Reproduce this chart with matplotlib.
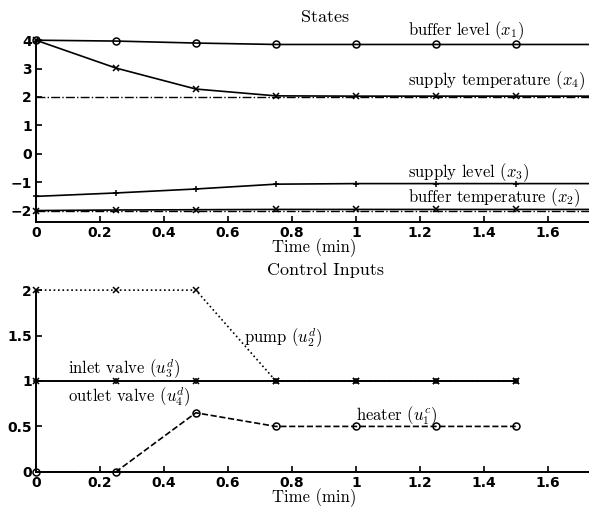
import numpy as np
import matplotlib.pyplot as plt

# ---- data ----
t_states = [0, 0.25, 0.5, 0.75, 1.0, 1.25, 1.5, 1.75]
buffer_level = [4.0, 3.97, 3.9, 3.85, 3.85, 3.85, 3.85, 3.85]          # x1
supply_temp = [4.0, 3.02, 2.28, 2.04, 2.03, 2.03, 2.03, 2.03]           # x4
supply_level = [-1.5, -1.38, -1.24, -1.07, -1.05, -1.05, -1.05, -1.05]  # x3
buffer_temp = [-2.0, -1.98, -1.97, -1.96, -1.96, -1.96, -1.96, -1.96]   # x2
ref_t = [0, 1.75]
ref_supply_temp = [2.0, 2.0]
ref_buffer_temp = [-2.0, -2.0]

t_inputs = [0, 0.25, 0.5, 0.75, 1.0, 1.25, 1.5]
pump = [2, 2, 2, 1, 1, 1, 1]                      # u2
inlet_valve = [1, 1, 1, 1, 1, 1, 1]               # u3
outlet_valve = [1, 1, 1, 1, 1, 1, 1]              # u4
heater = [0, 0, 0.65, 0.5, 0.5, 0.5, 0.5]         # u1

x_ticks = [0, 0.2, 0.4, 0.6, 0.8, 1.0, 1.2, 1.4, 1.6]
x_ticklabels = ['0', '0.2', '0.4', '0.6', '0.8', '1', '1.2', '1.4', '1.6']
y_ticks_states = [-2, -1, 0, 1, 2, 3, 4]
y_ticklabels_states = ['−2', '−1', '0', '1', '2', '3', '4']
y_ticks_inputs = [0, 0.5, 1, 1.5, 2]
y_ticklabels_inputs = ['0', '0.5', '1', '1.5', '2']

plt.rcParams['font.family'] = ['cmr10', 'DejaVu Serif']
plt.rcParams['mathtext.fontset'] = 'cm'
plt.rcParams['axes.formatter.use_mathtext'] = True

fig = plt.figure(figsize=(5.89, 5.09), dpi=100)
ax1 = fig.add_axes([0.061, 0.564, 0.945, 0.357])
ax2 = fig.add_axes([0.061, 0.073, 0.945, 0.357])

lw = 1.2
ms = 5
kw = dict(color='black', lw=lw, ms=ms, mew=1.1, mfc='none', clip_on=False)
fs = 12

# ---- States ----
ax1.plot(ref_t, ref_supply_temp, ls='-.', color='black', lw=1.0)
ax1.plot(ref_t, ref_buffer_temp, ls='-.', color='black', lw=1.0)
ax1.plot(t_states, buffer_level, marker='o', ls='-', **kw)
ax1.plot(t_states, supply_temp, marker='x', ls='-', **kw)
ax1.plot(t_states, supply_level, marker='+', ls='-', **kw)
ax1.plot(t_states, buffer_temp, marker='x', ls='-', **kw)

ax1.text(1.164, 4.32, r'buffer level ($x_1$)', fontsize=fs, va='center')
ax1.text(1.164, 2.57, r'supply temperature ($x_4$)', fontsize=fs, va='center')
ax1.text(1.164, -0.68, r'supply level ($x_3$)', fontsize=fs, va='center')
ax1.text(1.164, -1.55, r'buffer temperature ($x_2$)', fontsize=fs, va='center')

ax1.set_xlim(0, 1.74)
ax1.set_ylim(-2.4, 4)
ax1.set_yticks(y_ticks_states)
ax1.set_yticklabels(y_ticklabels_states)
ax1.set_title('States', fontsize=13, pad=13, x=0.52)
ax1.set_xlabel('Time (min)', fontsize=fs, labelpad=-1)

# ---- Control Inputs ----
ax2.plot(t_inputs, pump, marker='x', ls=':', **kw)
ax2.plot(t_inputs, inlet_valve, marker='+', ls='-', **kw)
ax2.plot(t_inputs, outlet_valve, marker='x', ls='-', **kw)
ax2.plot(t_inputs, heater, marker='o', ls='--', **kw)

ax2.text(0.65, 1.47, r'pump ($u_2^d$)', fontsize=fs, va='center')
ax2.text(0.10, 1.13, r'inlet valve ($u_3^d$)', fontsize=fs, va='center')
ax2.text(0.10, 0.82, r'outlet valve ($u_4^d$)', fontsize=fs, va='center')
ax2.text(1.0, 0.62, r'heater ($u_1^c$)', fontsize=fs, va='center')

ax2.set_xlim(0, 1.74)
ax2.set_ylim(0, 2)
ax2.set_yticks(y_ticks_inputs)
ax2.set_yticklabels(y_ticklabels_inputs)
ax2.set_title('Control Inputs', fontsize=13, pad=11, x=0.52)
ax2.set_xlabel('Time (min)', fontsize=fs, labelpad=-1)

for ax in (ax1, ax2):
    ax.set_xticks(x_ticks)
    ax.set_xticklabels(x_ticklabels)
    ax.spines['top'].set_visible(False)
    ax.spines['right'].set_visible(False)
    ax.spines['left'].set_linewidth(1.4)
    ax.spines['bottom'].set_linewidth(1.4)
    ax.tick_params(direction='in', length=4, width=1.2, pad=3)
    for lab in ax.get_xticklabels() + ax.get_yticklabels():
        lab.set_family('DejaVu Sans')
        lab.set_fontweight('bold')
        lab.set_fontsize(10)

fig.savefig('out.png', dpi=100)
